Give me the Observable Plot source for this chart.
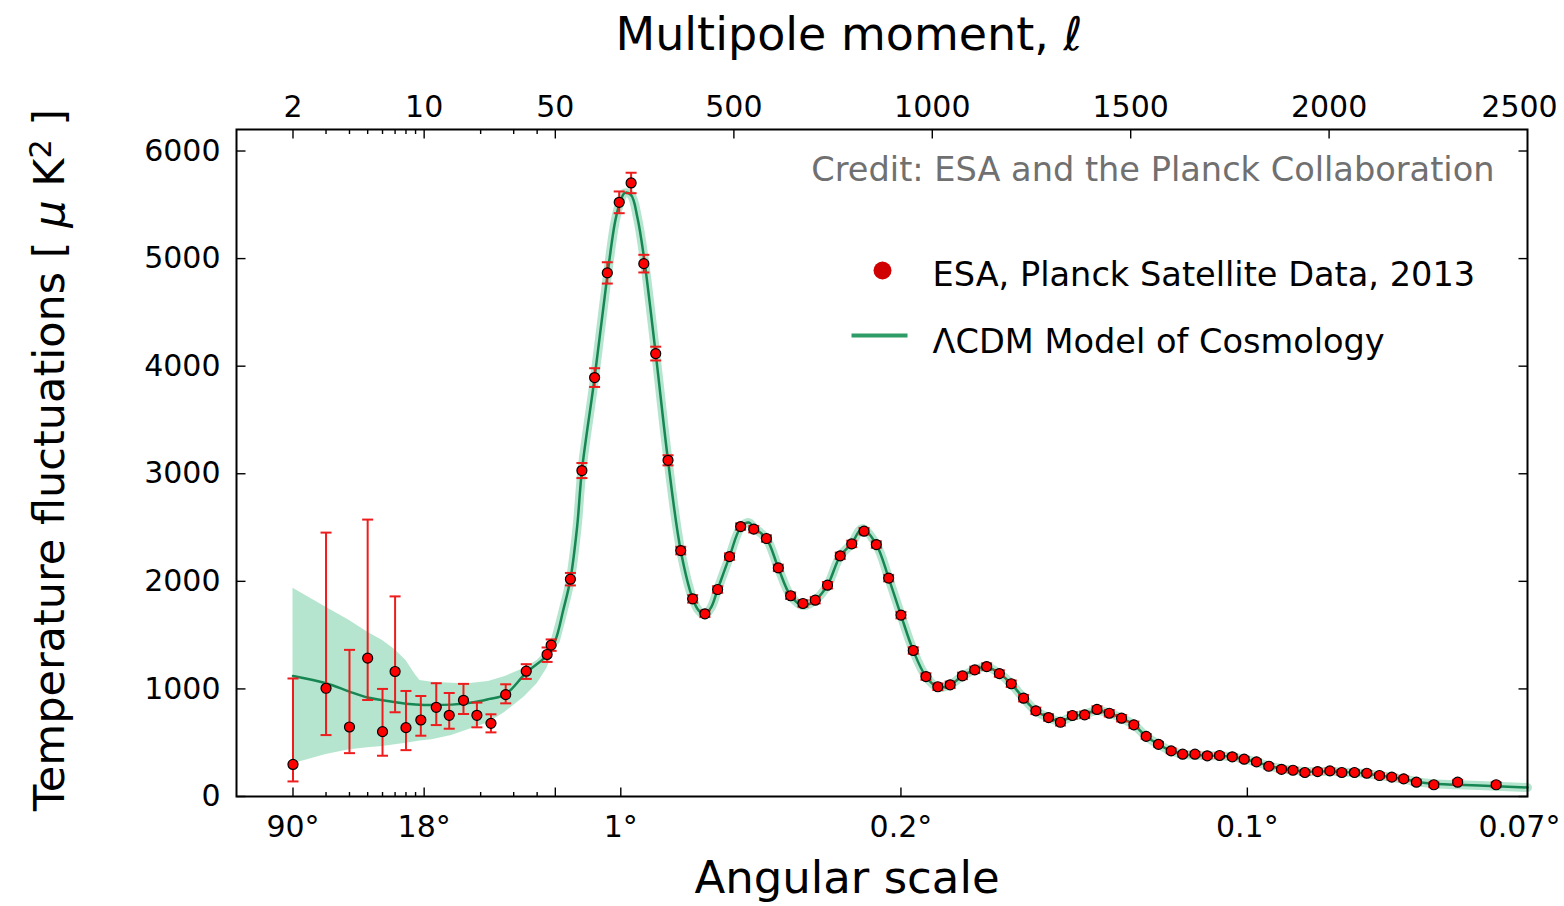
<!DOCTYPE html>
<html><head><meta charset="utf-8">
<script src="https://cdn.jsdelivr.net/npm/d3@7"></script>
<script src="https://cdn.jsdelivr.net/npm/@observablehq/plot@0.6"></script>
<style>body{margin:0;background:#fff} svg{display:block}</style>
</head><body><div id="chart"></div>
<script>
// ---------- DATA ----------
// Planck 2013 binned points: multipole, D_l [uK^2], error below, error above
const ptL = [2,3,4,5,6,7,8,9.6,11.6,13.6,16.2,19.1,22.7,27.2,35,45.2,47.5,88,117,149,
  181,211,241,273,303,334,366,396,427,459,489,517,550,582,612,643,674,705,736,768,
  797,828,859,890,921,952,984,1014,1045,1076,1107,1137,1169,1199,1230,1261,1293,1323,1353,1384,
  1415,1446,1477,1508,1539,1570,1602,1631,1662,1693,1724,1756,1786,1817,1848,1880,1909,1939,1971,2002,
  2032,2064,2095,2127,2158,2188,2220,2264,2324,2421];
const ptD = [298,1006,646,1286,603,1162,640,711,829,755,894,755,680,947,1165,1320,1407,2020,3030,3894,
  4867,5523,5703,4953,4117,3125,2286,1837,1698,1924,2230,2509,2485,2398,2125,1866,1794,1825,1964,2237,
  2348,2466,2342,2030,1686,1357,1115,1020,1038,1121,1177,1208,1143,1048,914,796,734,690,753,759,
  809,774,728,666,559,485,424,393,393,378,381,369,347,322,281,253,244,223,232,238,
  223,223,216,195,180,164,133,109,133,109];
const errMinus = [158,435,243,389,224,379,209,146,165,125,127,112,84,81,72,69,53,58,70,87,
  99,101,95,82,64,47,35,35,30,30,30,30,30,30,30,30,30,30,30,30,
  30,30,30,30,30,30,30,30,30,30,30,30,30,30,30,30,30,30,30,30,
  30,30,30,30,22,22,22,22,22,22,22,22,22,22,22,22,22,22,22,22,
  22,22,22,22,22,22,22,22,22,22];
const errPlus = [799,1447,717,1288,397,698,341,223,224,207,153,118,84,96,65,65,53,58,70,87,
  99,101,95,82,64,47,35,35,30,30,30,30,30,30,30,30,30,30,30,30,
  30,30,30,30,30,30,30,30,30,30,30,30,30,30,30,30,30,30,30,30,
  30,30,30,30,22,22,22,22,22,22,22,22,22,22,22,22,22,22,22,22,
  22,22,22,22,22,22,22,22,22,22];

// LambdaCDM model curve
const modelL = [2,3,4,5,6,8,10,14,18,22,27,35,45,50,70,88,105,117,149,181,
  200,211,225,241,257,273,303,334,366,396,411,427,443,459,489,517,538,550,582,612,
  643,674,705,736,768,797,823,859,890,921,952,984,1014,1045,1076,1107,1137,1169,1199,1230,
  1261,1293,1323,1353,1384,1415,1446,1477,1508,1539,1570,1602,1631,1662,1693,1724,1756,1786,1817,1848,
  1880,1909,1939,1971,2002,2032,2064,2095,2127,2158,2188,2220,2264,2324,2421,2500];
const modelD = [1121,1053,975,920,894,863,851,854,873,905,947,1150,1310,1450,1733,2020,2509,3030,3894,4840,
  5330,5500,5610,5590,5380,5020,4117,3125,2286,1840,1730,1690,1760,1924,2230,2500,2546,2500,2398,2125,
  1866,1775,1825,1964,2237,2350,2490,2342,2030,1686,1357,1115,1015,1038,1121,1177,1205,1143,1048,914,
  796,734,700,745,765,800,774,728,666,559,485,424,393,385,378,378,368,347,320,285,
  258,245,232,232,234,228,222,212,195,178,162,138,118,110,95,84];

// cosmic-variance band at low multipoles
const bandL  = [2,3,4,5,6,7,8,9,9.5,11,14,17,22,27,34,40,45,48.5,50];
const bandLo = [304,390,434,452,465,480,495,510,515,527,567,617,685,784,923,1047,1187,1326,1419];
const bandHi = [1936,1759,1636,1527,1450,1363,1264,1130,1078,1062,1053,1047,1070,1115,1190,1264,1357,1450,1543];

// axes
const topTicks = [2,10,50,500,1000,1500,2000,2500];
const topLabels = ["2","10","50","500","1000","1500","2000","2500"];
const minorTicks = [3,4,5,6,7,8,9,20,30,40];
const bottomTicks = [2,10,215,921,1794,2500];
const bottomLabels = ["90°","18°","1°","0.2°","0.1°","0.07°"];
const bottomMajor = [2,10,50,215,921,1794];
const yTicks = [0,1000,2000,3000,4000,5000,6000];
const yDomain = [0,6200];
const lDomain = [1,2500];

// ---------- hybrid multipole axis: log below 50, linear above ----------
const LOGK = 187.7, LINK = 0.3969, LB = 50;
const u = l => l <= LB ? LOGK*Math.log10(l/2) : LOGK*Math.log10(LB/2) + (l-LB)*LINK;

const pts = ptL.map((l,i)=>({u:u(l), D:ptD[i], lo:ptD[i]-errMinus[i], hi:ptD[i]+errPlus[i]}));
const model = modelL.map((l,i)=>({l, u:u(l), D:modelD[i]}));
const band = bandL.map((l,i)=>({u:u(l), lo:bandLo[i], hi:bandHi[i]}));

const sym = f => ({draw(ctx,size){const L=Math.sqrt(size/Math.PI); f(ctx,L);}});
const capSym = sym((c,L)=>{c.moveTo(-L,0);c.lineTo(L,0);});
const hLine = capSym;
const tUp = sym((c,L)=>{c.moveTo(0,0);c.lineTo(0,-L);});
const tDown = sym((c,L)=>{c.moveTo(0,0);c.lineTo(0,L);});
const tRight = sym((c,L)=>{c.moveTo(0,0);c.lineTo(L,0);});
const tLeft = sym((c,L)=>{c.moveTo(0,0);c.lineTo(-L,0);});

const topMap = new Map(topTicks.map((l,i)=>[u(l), topLabels[i]]));
const botMap = new Map(bottomTicks.map((l,i)=>[u(l), bottomLabels[i]]));
const lastTop = topTicks.length - 1, lastBot = bottomTicks.length - 1;

const GREEN = "#168652", BAND = "#b5e5cf", RED = "#ff0000", ERR = "#ee1c1c";
const xMin = u(lDomain[0]), xMax = u(lDomain[1]);
const tk = {stroke:"black", strokeWidth:1.4, fill:"none"};
const ax = {tickSize:0, fontSize:30, label:null};

const chart = Plot.plot({
  width: 1564, height: 906,
  marginLeft: 236, marginRight: 37, marginTop: 129, marginBottom: 110,
  style: {fontFamily: "DejaVu Sans", background: "white", color: "black", overflow: "visible"},
  x: {domain: [xMin, xMax]},
  y: {domain: yDomain},
  marks: [
    Plot.areaY(band, {x:"u", y1:"lo", y2:"hi", fill: BAND}),
    Plot.line(model.filter(d=>d.l>=LB), {x:"u", y:"D", stroke: BAND, strokeWidth: 9, curve:"catmull-rom"}),
    Plot.line(model, {x:"u", y:"D", stroke: GREEN, strokeWidth: 2.5, curve:"catmull-rom"}),
    Plot.ruleX(pts, {x:"u", y1:"lo", y2:"hi", stroke: ERR, strokeWidth: 2}),
    Plot.dot(pts, {x:"u", y:"hi", symbol: capSym, r: 5.5, stroke: ERR, strokeWidth: 2, fill:"none"}),
    Plot.dot(pts, {x:"u", y:"lo", symbol: capSym, r: 5.5, stroke: ERR, strokeWidth: 2, fill:"none"}),
    Plot.dot(pts, {x:"u", y:"D", r: 5, fill: RED, stroke:"black", strokeWidth: 1.2}),
    Plot.frame({stroke:"black", strokeWidth: 2}),
    // inward ticks
    Plot.dot(topTicks.slice(0,-1), {x: d=>u(d), y: ()=>yDomain[1], symbol: tDown, r: 9, ...tk}),
    Plot.dot(minorTicks, {x: d=>u(d), y: ()=>yDomain[1], symbol: tDown, r: 4.5, ...tk}),
    Plot.dot(bottomMajor, {x: d=>u(d), y: ()=>yDomain[0], symbol: tUp, r: 9, ...tk}),
    Plot.dot(minorTicks, {x: d=>u(d), y: ()=>yDomain[0], symbol: tUp, r: 4.5, ...tk}),
    Plot.dot(yTicks, {x: ()=>xMin, y: d=>d, symbol: tRight, r: 9, ...tk}),
    Plot.dot(yTicks, {x: ()=>xMax, y: d=>d, symbol: tLeft, r: 9, ...tk}),
    // axis labels
    Plot.axisX(topTicks.slice(0,-1).map(u), {anchor:"top", tickPadding:13, tickFormat: d=>topMap.get(d), ...ax}),
    Plot.axisX([u(topTicks[lastTop])], {anchor:"top", tickPadding:13, dx:-8, tickFormat: d=>topMap.get(d), ...ax}),
    Plot.axisX(bottomTicks.slice(0,-1).map(u), {anchor:"bottom", tickPadding:19, tickFormat: d=>botMap.get(d), ...ax}),
    Plot.axisX([u(bottomTicks[lastBot])], {anchor:"bottom", tickPadding:19, dx:-8, tickFormat: d=>botMap.get(d), ...ax}),
    Plot.axisY(yTicks, {anchor:"left", tickPadding:16, tickFormat: d=>String(d), ...ax}),
    // titles
    Plot.text(["Multipole moment, ℓ"], {frameAnchor:"top", lineAnchor:"middle", textAnchor:"middle", dx:-33, dy:-94, fontSize:46, fill:"black"}),
    Plot.text(["Angular scale"], {frameAnchor:"bottom", lineAnchor:"middle", textAnchor:"middle", dx:-35, dy:82, fontSize:45, fill:"black"}),
    Plot.text(["Temperature fluctuations [ μK² ]"], {frameAnchor:"left", lineAnchor:"middle", textAnchor:"middle", dx:-186, dy:-3, rotate:-90, fontSize:43, fill:"black", className:"ylab"}),
    Plot.text(["Credit: ESA and the Planck Collaboration"], {frameAnchor:"top-right", lineAnchor:"middle", textAnchor:"end", dx:-33, dy:41, fontSize:33.6, fill:"#707070"}),
    // legend
    Plot.dot([0], {frameAnchor:"top-left", dx:646, dy:141, r:9, fill:"#d00000"}),
    Plot.text(["ESA, Planck Satellite Data, 2013"], {frameAnchor:"top-left", lineAnchor:"middle", textAnchor:"start", dx:696, dy:146, fontSize:33.6, fill:"black"}),
    Plot.dot([0], {frameAnchor:"top-left", dx:643, dy:206, r:28, symbol: hLine, stroke:"#2e9c66", strokeWidth:4, fill:"none"}),
    Plot.text(["ΛCDM Model of Cosmology"], {frameAnchor:"top-left", lineAnchor:"middle", textAnchor:"start", dx:696, dy:213, fontSize:33.6, fill:"black"})
  ]
});
document.getElementById("chart").appendChild(chart);

// italic mu and superscript in y label
try {
  const t = d3.select(chart).select("g.ylab text");
  if (!t.empty()) {
    t.text(null);
    t.append("tspan").text("Temperature fluctuations [ ");
    t.append("tspan").attr("font-style","italic").text("μ");
    t.append("tspan").text(" K");
    t.append("tspan").attr("dy","-0.45em").attr("font-size","0.7em").text("2");
    t.append("tspan").attr("dy","0.32em").text(" ]");
  }
} catch(e) {}
</script>
</body></html>
